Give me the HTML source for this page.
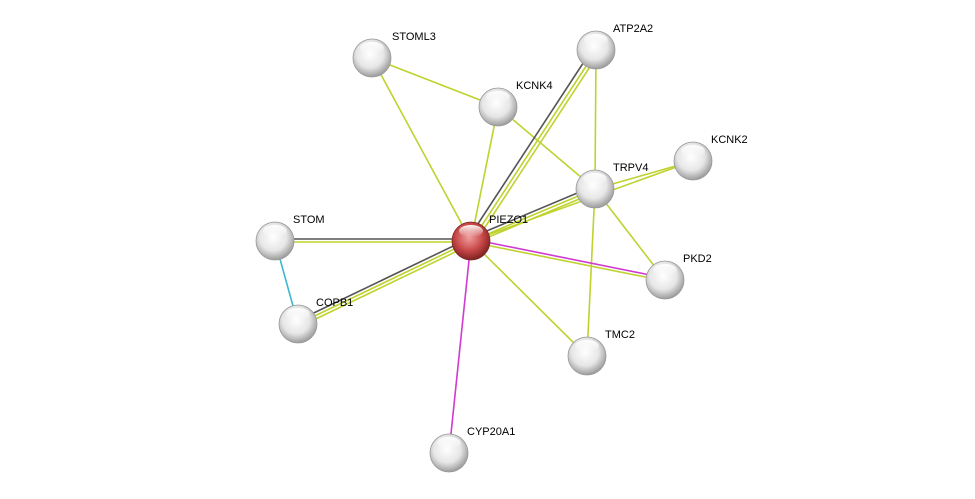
<!DOCTYPE html>
<html><head><meta charset="utf-8"><style>
html,body{margin:0;padding:0;background:#fff;}
svg{display:block;}
text{font-family:"Liberation Sans",sans-serif;font-size:11px;fill:#000;}
</style></head><body>
<svg width="975" height="499" viewBox="0 0 975 499" xmlns="http://www.w3.org/2000/svg">
<defs>
<radialGradient id="g" cx="0.45" cy="0.4" r="0.65">
<stop offset="0" stop-color="#ffffff"/><stop offset="0.55" stop-color="#e6e6e6"/><stop offset="1" stop-color="#8c8c8c"/>
</radialGradient>
<radialGradient id="r" cx="0.45" cy="0.4" r="0.65">
<stop offset="0" stop-color="#f0a0a0"/><stop offset="0.55" stop-color="#c84848"/><stop offset="1" stop-color="#701a1a"/>
</radialGradient>
<linearGradient id="hl" x1="0" y1="0" x2="0" y2="1">
<stop offset="0" stop-color="#fff" stop-opacity="0.95"/><stop offset="1" stop-color="#fff" stop-opacity="0"/>
</linearGradient>
</defs>
<g stroke-width="1.6" fill="none">
<line x1="372" y1="58" x2="498" y2="107" stroke="#bfd22e"/>
<line x1="372" y1="58" x2="471" y2="241" stroke="#bfd22e"/>
<line x1="498" y1="107" x2="471" y2="241" stroke="#bfd22e"/>
<line x1="498" y1="107" x2="595" y2="189" stroke="#bfd22e"/>
<line x1="596" y1="50" x2="595" y2="189" stroke="#bfd22e"/>
<line x1="593" y1="48" x2="468" y2="239" stroke="#555"/>
<line x1="596" y1="51" x2="471" y2="242" stroke="#bfd22e"/>
<line x1="599" y1="53" x2="474" y2="244" stroke="#bfd22e"/>
<line x1="594" y1="186" x2="470" y2="238" stroke="#555"/>
<line x1="595" y1="189" x2="471" y2="241" stroke="#bfd22e"/>
<line x1="596" y1="192" x2="472" y2="244" stroke="#bfd22e"/>
<line x1="471" y1="241" x2="693" y2="161" stroke="#bfd22e"/>
<line x1="595" y1="189" x2="693" y2="161" stroke="#bfd22e"/>
<line x1="595" y1="189" x2="665" y2="280" stroke="#bfd22e"/>
<line x1="595" y1="189" x2="587" y2="356" stroke="#bfd22e"/>
<line x1="471" y1="239" x2="665" y2="278" stroke="#d03ad0"/>
<line x1="471" y1="242" x2="665" y2="281" stroke="#bfd22e"/>
<line x1="471" y1="241" x2="587" y2="356" stroke="#bfd22e"/>
<line x1="275" y1="239" x2="471" y2="239" stroke="#555"/>
<line x1="275" y1="242" x2="471" y2="242" stroke="#bfd22e"/>
<line x1="297" y1="321" x2="470" y2="238" stroke="#555"/>
<line x1="298" y1="324" x2="471" y2="241" stroke="#bfd22e"/>
<line x1="299" y1="327" x2="472" y2="244" stroke="#bfd22e"/>
<line x1="275" y1="241" x2="298" y2="324" stroke="#3bb8d0"/>
<line x1="471" y1="241" x2="449" y2="453" stroke="#d03ad0"/>
</g>
<g stroke="#999" stroke-width="0.8">
<g transform="translate(372,58)"><circle r="19" fill="url(#g)"/><ellipse cx="0" cy="-10" rx="12" ry="6" fill="url(#hl)" stroke="none"/></g>
<g transform="translate(596,50)"><circle r="19" fill="url(#g)"/><ellipse cx="0" cy="-10" rx="12" ry="6" fill="url(#hl)" stroke="none"/></g>
<g transform="translate(498,107)"><circle r="19" fill="url(#g)"/><ellipse cx="0" cy="-10" rx="12" ry="6" fill="url(#hl)" stroke="none"/></g>
<g transform="translate(693,161)"><circle r="19" fill="url(#g)"/><ellipse cx="0" cy="-10" rx="12" ry="6" fill="url(#hl)" stroke="none"/></g>
<g transform="translate(595,189)"><circle r="19" fill="url(#g)"/><ellipse cx="0" cy="-10" rx="12" ry="6" fill="url(#hl)" stroke="none"/></g>
<g transform="translate(275,241)"><circle r="19" fill="url(#g)"/><ellipse cx="0" cy="-10" rx="12" ry="6" fill="url(#hl)" stroke="none"/></g>
<g transform="translate(471,241)"><circle r="19" fill="url(#r)" stroke="#7a2a2a"/><ellipse cx="0" cy="-10" rx="12" ry="6" fill="url(#hl)" stroke="none"/></g>
<g transform="translate(665,280)"><circle r="19" fill="url(#g)"/><ellipse cx="0" cy="-10" rx="12" ry="6" fill="url(#hl)" stroke="none"/></g>
<g transform="translate(298,324)"><circle r="19" fill="url(#g)"/><ellipse cx="0" cy="-10" rx="12" ry="6" fill="url(#hl)" stroke="none"/></g>
<g transform="translate(587,356)"><circle r="19" fill="url(#g)"/><ellipse cx="0" cy="-10" rx="12" ry="6" fill="url(#hl)" stroke="none"/></g>
<g transform="translate(449,453)"><circle r="19" fill="url(#g)"/><ellipse cx="0" cy="-10" rx="12" ry="6" fill="url(#hl)" stroke="none"/></g>
</g>
<g>
<text x="392" y="40">STOML3</text>
<text x="613" y="32">ATP2A2</text>
<text x="516" y="89">KCNK4</text>
<text x="711" y="143">KCNK2</text>
<text x="613" y="171">TRPV4</text>
<text x="293" y="223">STOM</text>
<text x="489" y="223">PIEZO1</text>
<text x="683" y="262">PKD2</text>
<text x="316" y="306">COPB1</text>
<text x="605" y="338">TMC2</text>
<text x="467" y="435">CYP20A1</text>
</g>
</svg>
</body></html>
